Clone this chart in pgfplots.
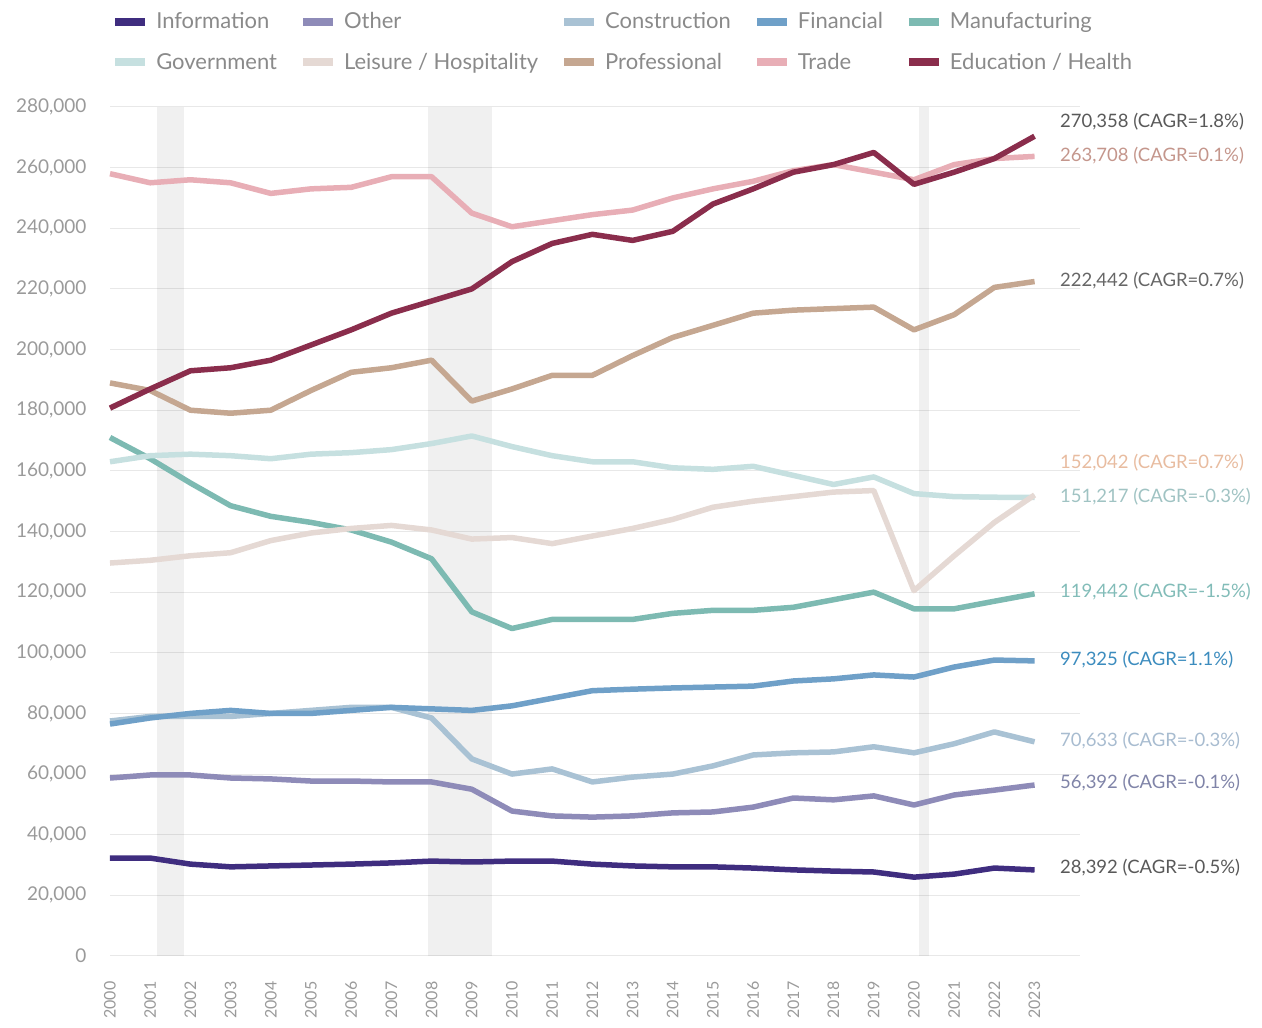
\documentclass[border=0pt]{standalone}
\usepackage{fontspec}
\setmainfont{Lato}
\usepackage{pgfplots}
\usepackage{pgfplotstable}
\pgfplotsset{compat=1.18}
\definecolor{cInfo}{HTML}{3F2D7F}
\definecolor{cOther}{HTML}{8E8BB8}
\definecolor{cCons}{HTML}{A9C2D4}
\definecolor{cFin}{HTML}{6FA0C8}
\definecolor{cManu}{HTML}{7DBAB2}
\definecolor{cGov}{HTML}{C6E0E0}
\definecolor{cLeis}{HTML}{E5D9D4}
\definecolor{cProf}{HTML}{C5A791}
\definecolor{cTrade}{HTML}{E8AEB6}
\definecolor{cEdu}{HTML}{8A2D4C}
\definecolor{tickgray}{HTML}{9A9A9A}
\definecolor{leggray}{HTML}{8A8A8A}
\pgfplotstableread{
year info other cons fin manu gov leis prof trade edu
2000 32300 58700 77500 76500 171000 163000 129600 189000 258000 180700
2001 32300 59700 79000 78500 164000 165000 130500 186500 255000 187000
2002 30300 59700 79000 80000 156000 165500 132000 180000 256000 193000
2003 29400 58700 79000 81000 148500 165000 133000 179000 255000 194000
2004 29700 58400 80000 80000 145000 164000 137000 180000 251500 196500
2005 30000 57700 81000 80000 143000 165500 139500 186500 253000 201500
2006 30300 57700 82000 81000 140500 166000 141000 192500 253500 206500
2007 30700 57400 82000 82000 136500 167000 142000 194000 257000 212000
2008 31300 57400 78500 81500 131000 169000 140500 196500 257000 216000
2009 31000 55000 65000 81000 113500 171500 137500 183000 245000 220000
2010 31300 47800 60000 82500 108000 168000 138000 187000 240500 229000
2011 31300 46200 61700 85000 111000 165000 136000 191500 242500 235000
2012 30300 45800 57400 87500 111000 163000 138500 191500 244500 238000
2013 29700 46200 59000 88000 111000 163000 141000 198000 246000 236000
2014 29400 47200 60000 88400 113000 161000 144000 204000 250000 239000
2015 29400 47500 62700 88700 114000 160500 148000 208000 253000 248000
2016 29000 49100 66300 89000 114000 161500 150000 212000 255500 253000
2017 28400 52100 67000 90700 115000 158500 151500 213000 259000 258500
2018 28000 51500 67300 91400 117500 155500 153000 213500 261000 261000
2019 27700 52800 69000 92700 120000 158000 153500 214000 258500 265000
2020 26000 49800 67000 92000 114500 152500 120500 206500 256000 254500
2021 27000 53100 70000 95300 114500 151500 132000 211500 261000 258500
2022 29000 54700 73900 97600 117000 151300 143000 220500 263000 263000
2023 28392 56392 70633 97325 119442 151217 152042 222442 263708 270358
}\datatable
\begin{document}
\begin{tikzpicture}
\useasboundingbox (0pt,0pt) rectangle (1262pt,1028pt);
\begin{axis}[
  at={(110pt,72pt)}, anchor=south west,
  width=970pt, height=849pt, scale only axis,
  xmin=2000, xmax=2024.13, ymin=0, ymax=280000,
  xtick={2000,...,2023},
  xticklabels={2000,2001,2002,2003,2004,2005,2006,2007,2008,2009,2010,2011,2012,2013,2014,2015,2016,2017,2018,2019,2020,2021,2022,2023},
  ytick={0,20000,...,280000},
  yticklabels={0,{20,000},{40,000},{60,000},{80,000},{100,000},{120,000},{140,000},{160,000},{180,000},{200,000},{220,000},{240,000},{260,000},{280,000}},
  scaled y ticks=false, scaled x ticks=false,
  axis line style={draw=none}, tick style={draw=none},
  ymajorgrids, major grid style={color=black!9, line width=1pt},
  x tick label style={rotate=90, anchor=east, font=\fontsize{16}{18}\selectfont, text=tickgray},
  xticklabel shift=22pt,
  y tick label style={font=\fontsize{19}{21}\selectfont, text=tickgray},
  yticklabel shift=20pt,
  clip=false,
  every axis plot/.append style={line width=5.5pt, line join=round, no markers},
  legend columns=5,
  legend cell align=left,
  legend image code/.code={\draw[#1, line width=8pt, line cap=butt] (0pt,0pt) -- (30pt,0pt);},
  legend style={at={(axis description cs:-0.002,1.116)}, anchor=north west, draw=none, fill=none,
    font=\fontsize{22}{25}\selectfont, text=leggray,
    row sep=19pt,
    /tikz/every odd column/.append style={column sep=5pt},
    /tikz/every even column/.append style={column sep=20pt}},
]
\fill[black, fill opacity=0.06] (axis cs:2001.17,0) rectangle (axis cs:2001.83,280000);
\fill[black, fill opacity=0.06] (axis cs:2007.92,0) rectangle (axis cs:2009.5,280000);
\fill[black, fill opacity=0.06] (axis cs:2020.12,0) rectangle (axis cs:2020.37,280000);
\addplot[cInfo] table[x=year,y=info]{\datatable};
\addlegendentry{Information}
\addplot[cOther] table[x=year,y=other]{\datatable};
\addlegendentry{Other}
\addplot[cCons] table[x=year,y=cons]{\datatable};
\addlegendentry{Construction}
\addplot[cFin] table[x=year,y=fin]{\datatable};
\addlegendentry{Financial}
\addplot[cManu] table[x=year,y=manu]{\datatable};
\addlegendentry{Manufacturing}
\addplot[cGov] table[x=year,y=gov]{\datatable};
\addlegendentry{Government}
\addplot[cLeis] table[x=year,y=leis]{\datatable};
\addlegendentry{Leisure / Hospitality}
\addplot[cProf] table[x=year,y=prof]{\datatable};
\addlegendentry{Professional}
\addplot[cTrade] table[x=year,y=trade]{\datatable};
\addlegendentry{Trade}
\addplot[cEdu] table[x=year,y=edu]{\datatable};
\addlegendentry{Education / Health}
\begin{scope}[every node/.style={anchor=west, font=\fontsize{18.5}{20}\selectfont, inner sep=0pt}]
\node[text=black!65] at (axis cs:2023.63,275000) {270,358 (CAGR=1.8\%)};
\node[text={rgb,255:red,196;green,150;blue,140}] at (axis cs:2023.63,263800) {263,708 (CAGR=0.1\%)};
\node[text=black!60] at (axis cs:2023.63,222600) {222,442 (CAGR=0.7\%)};
\node[text={rgb,255:red,232;green,188;blue,160}] at (axis cs:2023.63,162600) {152,042 (CAGR=0.7\%)};
\node[text={rgb,255:red,160;green,195;blue,195}] at (axis cs:2023.63,151400) {151,217 (CAGR=-0.3\%)};
\node[text={rgb,255:red,130;green,188;blue,184}] at (axis cs:2023.63,120000) {119,442 (CAGR=-1.5\%)};
\node[text={rgb,255:red,60;green,140;blue,190}] at (axis cs:2023.63,97600) {97,325 (CAGR=1.1\%)};
\node[text={rgb,255:red,168;green,188;blue,208}] at (axis cs:2023.63,70900) {70,633 (CAGR=-0.3\%)};
\node[text={rgb,255:red,128;green,132;blue,168}] at (axis cs:2023.63,57100) {56,392 (CAGR=-0.1\%)};
\node[text=black!65] at (axis cs:2023.63,29000) {28,392 (CAGR=-0.5\%)};
\end{scope}
\end{axis}
\end{tikzpicture}
\end{document}
